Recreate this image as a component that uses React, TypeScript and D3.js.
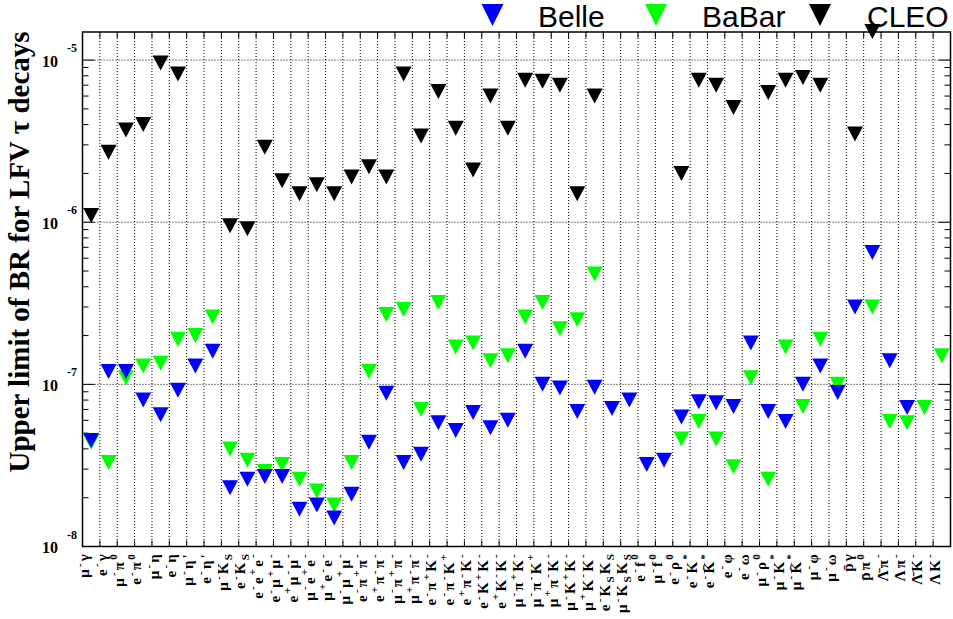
import React from "react";
import * as d3 from "d3";

const categories: string[] = [
  "μ^-γ", "e^-γ", "μ^-π^0", "e^-π^0", "μ^-η", "e^-η", "μ^-η'", "e^-η'", "μ^-K_S", "e^-K_S",
  "e^-e^+e^-", "e^-μ^+μ^-", "e^+μ^-μ^-", "μ^-e^+e^-", "μ^+e^-e^-", "μ^-μ^+μ^-",
  "e^-π^+π^-", "e^+π^-π^-", "μ^-π^+π^-", "μ^+π^-π^-",
  "e^-π^+K^-", "e^-π^-K^+", "e^+π^-K^-", "e^-K^+K^-", "e^+K^-K^-",
  "μ^-π^+K^-", "μ^-π^-K^+", "μ^+π^-K^-", "μ^-K^+K^-", "μ^+K^-K^-",
  "e^-K_SK_S", "μ^-K_SK_S", "e^-f^0", "μ^-f^0", "e^-ρ^0", "e^-K^*", "e^-K\u0304^*", "e^-φ", "e^-ω",
  "μ^-ρ^0", "μ^-K^*", "μ^-K\u0304^*", "μ^-φ", "μ^-ω", "p\u0304γ", "p\u0304π^0",
  "Λ\u0304π^-", "Λπ^-", "Λ\u0304K^-", "ΛK^-",
];

const belle: (number | null)[] = [
  4.5e-8, 1.2e-7, 1.2e-7, 8.0e-8, 6.5e-8, 9.2e-8, 1.3e-7, 1.6e-7, 2.3e-8, 2.6e-8,
  2.7e-8, 2.7e-8, 1.7e-8, 1.8e-8, 1.5e-8, 2.1e-8, 4.4e-8, 8.8e-8, 3.3e-8, 3.7e-8,
  5.8e-8, 5.2e-8, 6.7e-8, 5.4e-8, 6.0e-8, 1.6e-7, 1.0e-7, 9.5e-8, 6.8e-8, 9.6e-8,
  7.1e-8, 8.0e-8, 3.2e-8, 3.4e-8, 6.3e-8, 7.8e-8, 7.7e-8, 7.3e-8, 1.8e-7, 6.8e-8,
  5.9e-8, 1.0e-7, 1.3e-7, 8.9e-8, 3.0e-7, 6.5e-7, 1.4e-7, 7.2e-8, null, null,
];

const babar: (number | null)[] = [
  4.4e-8, 3.3e-8, 1.1e-7, 1.3e-7, 1.35e-7, 1.9e-7, 2.0e-7, 2.6e-7, 4.0e-8, 3.4e-8,
  2.9e-8, 3.2e-8, 2.6e-8, 2.2e-8, 1.8e-8, 3.3e-8, 1.2e-7, 2.7e-7, 2.9e-7, 7.0e-8,
  3.2e-7, 1.7e-7, 1.8e-7, 1.4e-7, 1.5e-7, 2.6e-7, 3.2e-7, 2.2e-7, 2.5e-7, 4.8e-7,
  null, null, null, null, 4.6e-8, 5.9e-8, 4.6e-8, 3.1e-8, 1.1e-7, 2.6e-8,
  1.7e-7, 7.3e-8, 1.9e-7, 1.0e-7, null, 3.0e-7, 5.9e-8, 5.8e-8, 7.2e-8, 1.5e-7,
];

const cleo: (number | null)[] = [
  1.1e-6, 2.7e-6, 3.7e-6, 4.0e-6, 9.6e-6, 8.2e-6, null, null, 9.5e-7, 9.1e-7,
  2.9e-6, 1.8e-6, 1.5e-6, 1.7e-6, 1.5e-6, 1.9e-6, 2.2e-6, 1.9e-6, 8.2e-6, 3.4e-6,
  6.4e-6, 3.8e-6, 2.1e-6, 6.0e-6, 3.8e-6, 7.5e-6, 7.4e-6, 7.0e-6, 1.5e-6, 6.0e-6,
  null, null, null, null, 2.0e-6, 7.5e-6, 7.0e-6, 5.1e-6, null, 6.3e-6,
  7.5e-6, 7.8e-6, 7.0e-6, null, 3.5e-6, 1.5e-5, null, null, null, null,
];

const decades: number[] = [-8, -7, -6, -5];
const seriesNames: string[] = ["Belle", "BaBar", "CLEO"];
const seriesColors: string[] = ["#0000ff", "#00ff00", "#000000"];

const W = 953;
const H = 619;
const L = 82.5, R = 950.5, T = 32, B = 546.5;

type Tok = { t: string; k: "n" | "sup" | "sub" };

function parseLabel(s: string): Tok[] {
  const chars = Array.from(s);
  const out: Tok[] = [];
  let i = 0;
  const take = () => {
    let c = chars[i++];
    while (i < chars.length && /[\u0300-\u036f]/.test(chars[i])) c += chars[i++];
    return c;
  };
  while (i < chars.length) {
    const c = chars[i];
    if (c === "^") { i++; out.push({ t: take(), k: "sup" }); }
    else if (c === "_") { i++; out.push({ t: take(), k: "sub" }); }
    else out.push({ t: take(), k: "n" });
  }
  return out;
}

function Label({ s }: { s: string }) {
  const toks = parseLabel(s);
  let cur = 0;
  return (
    <>
      {toks.map((tk, i) => {
        const target = tk.k === "sup" ? -6.5 : tk.k === "sub" ? 4 : 0;
        const dy = target - cur;
        cur = target;
        return (
          <tspan key={i} dy={dy} fontSize={tk.k === "n" ? 15 : 11}>
            {tk.t}
          </tspan>
        );
      })}
    </>
  );
}

function Tri({ cx, cy, w, h, fill }: { cx: number; cy: number; w: number; h: number; fill: string }) {
  const p = `${cx - w / 2},${cy - h / 2} ${cx + w / 2},${cy - h / 2} ${cx},${cy + h / 2}`;
  return <polygon points={p} fill={fill} />;
}

export default function App() {
  const x = d3.scaleBand<number>().domain(categories.map((_, i) => i)).range([L, R]).padding(0);
  const y = d3.scaleLog().domain([1e-8, 1.49e-5]).range([B, T]);
  const bw = x.bandwidth();

  const minor: number[] = [];
  decades.forEach((e) => {
    for (let m = 1; m <= 9; m++) {
      const v = m * Math.pow(10, e);
      if (v >= 1e-8 && v <= 1.49e-5) minor.push(v);
    }
  });

  const edges = categories.map((_, i) => (x(i) as number)).slice(1);
  const allSeries = [babar, belle, cleo];
  const allColors = [seriesColors[1], seriesColors[0], seriesColors[2]];

  return (
    <svg width={W} height={H} style={{ position: "absolute", left: 0, top: 0, background: "#fff" }}>
      <rect x={0} y={0} width={W} height={H} fill="#fff" />
      {edges.map((ex, i) => (
        <line key={"g" + i} x1={ex} x2={ex} y1={T} y2={B} stroke="#000" strokeWidth={1} strokeDasharray="1,2" />
      ))}
      {decades.slice(1).map((e) => (
        <line key={"h" + e} x1={L} x2={R} y1={y(Math.pow(10, e))} y2={y(Math.pow(10, e))} stroke="#000" strokeWidth={1} strokeDasharray="1,2" />
      ))}
      {edges.map((ex, i) => (
        <g key={"t" + i}>
          <line x1={ex} x2={ex} y1={B} y2={B - 6} stroke="#000" strokeWidth={1} />
          <line x1={ex} x2={ex} y1={T} y2={T + 6} stroke="#000" strokeWidth={1} />
        </g>
      ))}
      {minor.map((v, i) => {
        const major = Math.abs(Math.log10(v) - Math.round(Math.log10(v))) < 1e-9;
        const len = major ? 12 : 6;
        return (
          <g key={"y" + i}>
            <line x1={L} x2={L + len} y1={y(v)} y2={y(v)} stroke="#000" strokeWidth={1} />
            <line x1={R} x2={R - len} y1={y(v)} y2={y(v)} stroke="#000" strokeWidth={1} />
          </g>
        );
      })}
      <rect x={L} y={T} width={R - L} height={B - T} fill="none" stroke="#000" strokeWidth={1.5} />
      {allSeries.map((ser, si) =>
        ser.map((v, i) =>
          v == null ? null : (
            <Tri key={si + "-" + i} cx={(x(i) as number) + bw / 2} cy={y(v)} w={16} h={15} fill={allColors[si]} />
          )
        )
      )}
      {decades.map((e) => (
        <g key={"yl" + e} fontFamily="Liberation Serif" fontWeight="bold">
          <text x={58} y={y(Math.pow(10, e)) + 6.5} fontSize={16} textAnchor="end">10</text>
          <text x={67} y={y(Math.pow(10, e)) - 8} fontSize={12} textAnchor="start">{"-" + Math.abs(e)}</text>
        </g>
      ))}
      {categories.map((c, i) => {
        const cx = (x(i) as number) + bw / 2 - 2;
        return (
          <text key={"xl" + i} transform={`translate(${cx},552) rotate(-90)`} textAnchor="end" fontFamily="Liberation Serif" fontWeight="bold" fontSize={15} letterSpacing={2.2}>
            <Label s={c} />
          </text>
        );
      })}
      <text transform="translate(29,252) rotate(-90)" textAnchor="middle" fontFamily="Liberation Serif" fontWeight="bold" fontSize={29}>
        Upper limit of BR for LFV τ decays
      </text>
      {[
        { tx: 492.5, lx: 538 },
        { tx: 656, lx: 702 },
        { tx: 820, lx: 867 },
      ].map((p, i) => (
        <g key={"lg" + i}>
          <Tri cx={p.tx} cy={15} w={22} h={22} fill={seriesColors[i]} />
          <text x={p.lx} y={26.5} fontFamily="Liberation Sans" fontSize={30}>{seriesNames[i]}</text>
        </g>
      ))}
    </svg>
  );
}
